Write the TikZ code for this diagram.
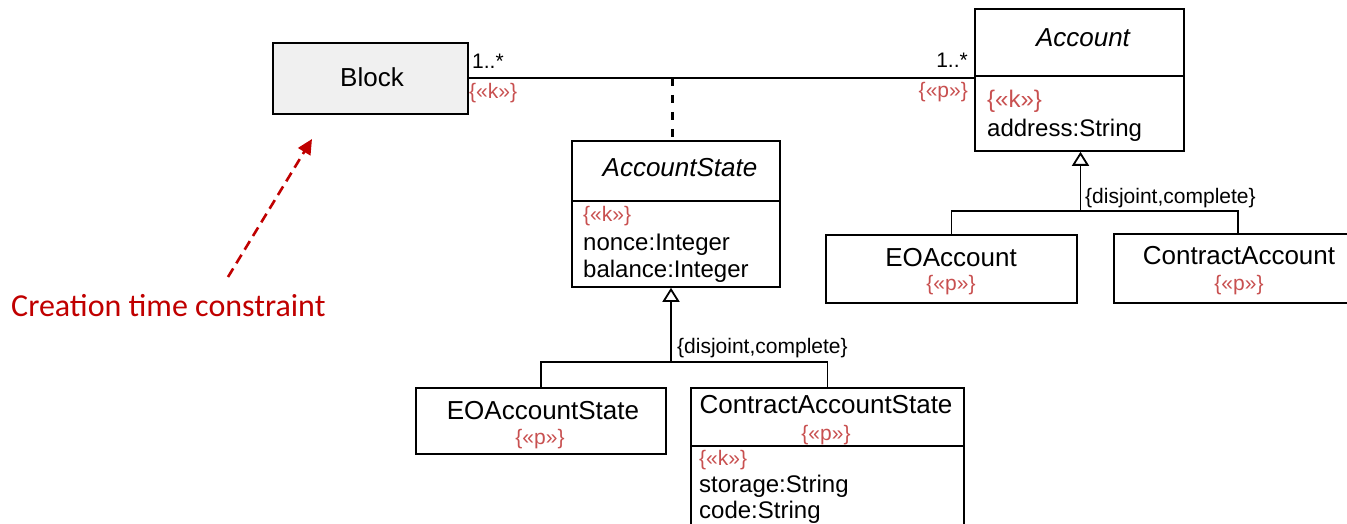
\documentclass[tikz,border=0pt]{standalone}
\usepackage{fontspec}
\setmainfont{Liberation Sans}
\newfontfamily\carl{Carlito}
\usetikzlibrary{arrows.meta}
\definecolor{lab}{RGB}{200,80,80}
\definecolor{dred}{RGB}{192,0,0}
\definecolor{blockfill}{RGB}{240,240,240}
\begin{document}
\begin{tikzpicture}[x=1pt,y=-1pt,
  umlbox/.style={draw, line width=1.8pt, inner sep=0pt, anchor=north west},
  conn/.style={line width=1.8pt},
  gen/.style={line width=1.8pt, -{Triangle[open, length=14pt, width=17pt, fill=white]}},
  title/.style={font=\fontsize{26}{30}\selectfont, inner sep=0pt, anchor=base},
  attr/.style={font=\fontsize{24}{28}\selectfont, inner sep=0pt, anchor=base west},
  lbl/.style={font=\fontsize{21}{25}\selectfont, inner sep=0pt, text=lab},
  mult/.style={font=\fontsize{21}{25}\selectfont, inner sep=0pt}]
\clip (0,0) rectangle (1347,524);

% Block
\node[umlbox, fill=blockfill, minimum width=195pt, minimum height=71pt] (block) at (272,42) {};
\node[title] (blockname) at (372,87) {Block};

% Account
\node[umlbox, minimum width=209pt, minimum height=142pt] (acc) at (974,8) {};
\draw[conn] (acc.west |- 0,76) -- (acc.east |- 0,76);
\node[title, font=\fontsize{26}{30}\selectfont\itshape] (accname) at (1083,47) {Account};
\node[attr, text=lab] (acck) at (987,108) {\{«k»\}};
\node[attr] (accaddr) at (987,137) {address:String};

% association
\draw[conn] (block.east) -- (block.east -| acc.west);
\node[mult, anchor=base west] (m1) at (472,69) {1..*};
\node[lbl, anchor=base west] (k1) at (469,99) {\{«k»\}};
\node[mult, anchor=base east] (m2) at (968,68) {1..*};
\node[lbl, anchor=base east] (p2) at (968,98) {\{«p»\}};

% AccountState
\node[umlbox, minimum width=208pt, minimum height=146pt] (as) at (571,140) {};
\draw[conn] (as.west |- 0,201) -- (as.east |- 0,201);
\node[title, font=\fontsize{26}{30}\selectfont\itshape] (asname) at (680,177) {AccountState};
\node[lbl, anchor=base west] (ask) at (583,221) {\{«k»\}};
\node[attr] (asnonce) at (583,250) {nonce:Integer};
\node[attr] (asbal) at (583,277) {balance:Integer};

% association class dashed link
\coordinate (amid) at (672.5,78);
\draw[conn, line width=2.2pt, dash pattern=on 8pt off 9pt] (amid) -- (amid |- as.north);

% EOAccount, ContractAccount
\node[umlbox, minimum width=251pt, minimum height=68pt] (eoa) at (825,234) {};
\node[title] (eoaname) at (951,266) {EOAccount};
\node[lbl, anchor=base] (eoap) at (951,290) {\{«p»\}};
\node[umlbox, minimum width=248pt, minimum height=69pt] (ca) at (1113,233) {};
\node[title] (caname) at (1239,264) {ContractAccount};
\node[lbl, anchor=base] (cap) at (1239,290) {\{«p»\}};

\coordinate (g2) at (1080.5,211);
\draw[conn] (eoa.north) |- (g2) -| (ca.north);
\draw[gen] (g2) -- (g2 |- acc.south);
\node[mult, anchor=base west] (dc2) at (1085,203) {\{disjoint,complete\}};

% EOAccountState, ContractAccountState
\node[umlbox, minimum width=250pt, minimum height=66pt] (eoas) at (415,387) {};
\node[title] (eoasname) at (543,419) {EOAccountState};
\node[lbl, anchor=base] (eoasp) at (540,444) {\{«p»\}};
\node[umlbox, minimum width=273pt, minimum height=160pt] (cas) at (690,387) {};
\draw[conn] (cas.west |- 0,446) -- (cas.east |- 0,446);
\node[title] (casname) at (826,413) {ContractAccountState};
\node[lbl, anchor=base] (casp) at (826,440) {\{«p»\}};
\node[lbl, anchor=base west] (cask) at (699,465) {\{«k»\}};
\node[attr] (casstor) at (699,492) {storage:String};
\node[attr] (cascode) at (699,518) {code:String};

\coordinate (g1) at (671,362);
\draw[conn] (eoas.north) |- (g1) -| (cas.north);
\draw[gen] (g1) -- (g1 |- as.south);
\node[mult, anchor=base west] (dc1) at (677,353) {\{disjoint,complete\}};

% creation time constraint
\node[font=\carl\fontsize{32}{36}\selectfont, text=dred, anchor=base west, inner sep=0pt] (ctc) at (11,316) {Creation time constraint};
\coordinate (ctail) at (228,277);
\coordinate (ctip) at (312,139);
\draw[dred, line width=2.6pt, dash pattern=on 10pt off 6pt, -{Triangle[length=15pt, width=14pt]}] (ctail) -- (ctip);
\end{tikzpicture}
\end{document}
